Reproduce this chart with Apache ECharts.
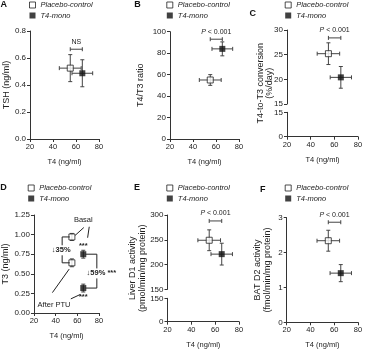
<!DOCTYPE html>
<html>
<head>
<meta charset="utf-8">
<script src="https://cdn.jsdelivr.net/npm/echarts@6/dist/echarts.min.js"></script>
<style>
  html, body { margin: 0; padding: 0; background: #fff; }
  #chart { width: 376px; height: 352px; }
</style>
</head>
<body>
<div id="chart"></div>
<script>
// values: [Placebo-control, T4-mono]
const groups = ['Placebo-control', 'T4-mono'];
const t4Ticks = [20, 40, 60, 80];
const t4Mean = [55, 65.5];
const t4Sem = [9.5, 9];
const tshMean = [0.525, 0.487];
const tshSem = [0.1, 0.1];
const ratioMean = [55, 84];
const ratioSem = [5, 6.5];
const convMean = [25.2, 20.4];
const convSem = [2.2, 2.2];
const t3Basal = [0.97, 0.75];
const t3BasalSem = [0.045, 0.05];
const t3Ptu = [0.64, 0.318];
const t3PtuSem = [0.05, 0.05];
const d1Mean = [249, 221];
const d1Sem = [21, 22];
const d2Mean = [2.34, 1.41];
const d2Sem = [0.3, 0.245];
const sigLabels = ['NS', 'P < 0.001', 'P < 0.001', 'P < 0.001', 'P < 0.001'];
const sigLevels = [0.665, 93, 28.4, 288, 2.87];

const FONT = '"Liberation Sans", Arial, sans-serif';
const INK = '#222';
const BAR = '#444';
const CAP = 2;

// panel D annotation geometry, in data units
const dLines = [
  [58, 0.99, 66, 1.09], [71, 1.1, 69.5, 0.96],
  [37, 0.26, 52.5, 0.56], [54, 0.18, 62.5, 0.235],
  [46, 0.97, 53, 0.97], [46, 0.97, 46, 0.64], [46, 0.64, 53, 0.64],
  [67.5, 0.75, 78, 0.75], [78, 0.75, 78, 0.318], [67.5, 0.318, 78, 0.318]
];
const dTexts = [
  { t: 'Basal', x: 65.5, y: 1.19 },
  { t: 'After PTU', x: 38.5, y: 0.1 },
  { t: '***', x: 65.5, y: 0.86, bold: true },
  { t: '***', x: 65.5, y: 0.2, bold: true },
  { t: '↓35%', x: 36.5, y: 0.8, bold: true, left: true },
  { t: '↓59% ***', x: 68.5, y: 0.505, bold: true, left: true }
];

const grids = [
  { left: 30, top: 31, width: 69, height: 108 },        // 0 A
  { left: 170, top: 31.7, width: 69, height: 107.3 },   // 1 B
  { left: 287, top: 30, width: 71, height: 74 },        // 2 C upper
  { left: 287, top: 112.3, width: 71, height: 24.4 },   // 3 C lower
  { left: 287, top: 30, width: 71, height: 106.7 },     // 4 C name only
  { left: 30, top: 215, width: 69, height: 98 },        // 5 D
  { left: 167.5, top: 215, width: 71.5, height: 74.3 }, // 6 E upper
  { left: 167.5, top: 298.3, width: 71.5, height: 23.4 },// 7 E lower
  { left: 167.5, top: 215, width: 71.5, height: 106.7 },// 8 E name only
  { left: 286.7, top: 217.7, width: 71.3, height: 104.6 } // 9 F
];

function seg(x1, y1, x2, y2, color) {
  return { type: 'line', shape: { x1, y1, x2, y2 }, style: { stroke: color || INK, lineWidth: 1 } };
}

function xAx(grid, show) {
  return {
    gridIndex: grid, type: 'value', show,
    min: t4Ticks[0], max: t4Ticks[t4Ticks.length - 1], interval: t4Ticks[1] - t4Ticks[0],
    name: 'T4 (ng/ml)', nameLocation: 'middle', nameGap: 19,
    nameTextStyle: { fontSize: 7.5, color: INK, fontFamily: FONT },
    axisLine: { lineStyle: { color: '#333' } },
    axisTick: { length: 3, lineStyle: { color: '#333' } },
    axisLabel: { fontSize: 7.5, margin: 4, color: INK, fontFamily: FONT },
    splitLine: { show: false }
  };
}

function yLabel(fmt) {
  return { fontSize: 8, margin: 4, color: INK, fontFamily: FONT, showMinLabel: true, showMaxLabel: true, formatter: fmt };
}

function yAx(grid, min, max, interval, extra) {
  return Object.assign({
    gridIndex: grid, type: 'value', min, max, interval,
    nameLocation: 'middle',
    nameTextStyle: { fontSize: 9, lineHeight: 9.5, color: INK, fontFamily: FONT },
    axisLine: { show: true, lineStyle: { color: '#333' } },
    axisTick: { show: true, length: 3, lineStyle: { color: '#333' } },
    axisLabel: yLabel(),
    splitLine: { show: false }
  }, extra || {});
}

const hidden = { axisLine: { show: false }, axisTick: { show: false }, axisLabel: { show: false } };

const xAxes = [
  xAx(0, true), xAx(1, true), xAx(2, false), xAx(3, true), xAx(4, false),
  xAx(5, true), xAx(6, false), xAx(7, true), xAx(8, false), xAx(9, true)
];
const yAxes = [
  yAx(0, 0, 0.8, 0.2, { name: 'TSH (ng/ml)', nameGap: 16, axisLabel: yLabel(v => v.toFixed(1)) }),
  yAx(1, 0, 100, 20, { name: 'T4/T3 ratio', nameGap: 25 }),
  yAx(2, 15, 30, 5),
  yAx(3, 0, 15, 15),
  yAx(4, 0, 1, 1, Object.assign({ name: 'T4-to-T3 conversion\n(%/day)', nameGap: 12.5 }, hidden)),
  yAx(5, 0, 1.25, 0.25, { name: 'T3 (ng/ml)', nameGap: 20.5, axisLabel: yLabel(v => v.toFixed(2)) }),
  yAx(6, 150, 300, 50),
  yAx(7, 0, 150, 150),
  yAx(8, 0, 1, 1, Object.assign({ name: 'Liver D1 activity\n(pmol/min/mg protein)', nameGap: 20.5 }, hidden)),
  yAx(9, 0, 3, 1, { name: 'BAT D2 activity\n(fmol/min/mg protein)', nameGap: 14.7 })
];

function renderErr(params, api) {
  const x = api.value(0), y = api.value(1), ex = api.value(2), ey = api.value(3);
  const kids = [];
  if (ex) {
    const a = api.coord([x - ex, y]), b = api.coord([x + ex, y]);
    kids.push(seg(a[0], a[1], b[0], b[1], BAR), seg(a[0], a[1] - CAP, a[0], a[1] + CAP, BAR), seg(b[0], b[1] - CAP, b[0], b[1] + CAP, BAR));
  }
  if (ey) {
    const a = api.coord([x, y - ey]), b = api.coord([x, y + ey]);
    kids.push(seg(a[0], a[1], b[0], b[1], BAR), seg(a[0] - CAP, a[1], a[0] + CAP, a[1], BAR), seg(b[0] - CAP, b[1], b[0] + CAP, b[1], BAR));
  }
  return { type: 'group', children: kids };
}

function panelSeries(grid, xs, xe, ys, ye) {
  const out = [{
    type: 'custom', xAxisIndex: grid, yAxisIndex: grid, z: 2, clip: false, silent: true,
    renderItem: renderErr,
    data: ys.map((y, i) => [xs[i], y, xe ? xe[i] : 0, ye[i]])
  }];
  groups.forEach((g, i) => {
    out.push({
      name: g, type: 'scatter', xAxisIndex: grid, yAxisIndex: grid, z: 3,
      symbol: 'rect', symbolSize: 6,
      itemStyle: i === 0 ? { color: '#fff', borderColor: INK, borderWidth: 1 } : { color: '#111' },
      data: [[xs[i], ys[i]]]
    });
  });
  return out;
}

function bracketSeries(grid, k) {
  const label = sigLabels[k];
  return {
    type: 'custom', xAxisIndex: grid, yAxisIndex: grid, z: 4, clip: false, silent: true,
    encode: { x: [0, 1], y: 2 },
    data: [[t4Mean[0], t4Mean[1], sigLevels[k]]],
    renderItem(params, api) {
      const a = api.coord([api.value(0), api.value(2)]);
      const b = api.coord([api.value(1), api.value(2)]);
      const text = label === 'NS' ? 'NS' : '{i|P} < 0.001';
      return {
        type: 'group',
        children: [
          seg(a[0], a[1], b[0], b[1], BAR),
          seg(a[0], a[1] - CAP, a[0], a[1] + CAP, BAR),
          seg(b[0], b[1] - CAP, b[0], b[1] + CAP, BAR),
          {
            type: 'text', x: (a[0] + b[0]) / 2, y: a[1] - 4,
            style: {
              text, align: 'center', verticalAlign: 'bottom', fill: INK,
              fontSize: 7, fontFamily: FONT,
              rich: { i: { fontStyle: 'italic', fontSize: 7, fontFamily: FONT, fill: INK } }
            }
          }
        ]
      };
    }
  };
}

const dNotes = {
  type: 'custom', xAxisIndex: 5, yAxisIndex: 5, z: 4, clip: false, silent: true,
  data: [[t4Mean[0], t3Basal[0]]],
  renderItem(params, api) {
    const kids = dLines.map(l => {
      const a = api.coord([l[0], l[1]]), b = api.coord([l[2], l[3]]);
      return seg(a[0], a[1], b[0], b[1]);
    });
    dTexts.forEach(t => {
      const p = api.coord([t.x, t.y]);
      kids.push({
        type: 'text', x: p[0], y: p[1], z2: 10,
        style: {
          text: t.t, align: t.left ? 'left' : 'center', verticalAlign: 'middle',
          fill: INK, fontSize: 7.5, fontWeight: t.bold ? 'bold' : 'normal', fontFamily: FONT,
          backgroundColor: t.left ? '#fff' : null, padding: t.left ? [1, 0] : 0
        }
      });
    });
    return { type: 'group', children: kids };
  }
};

const series = [].concat(
  panelSeries(0, t4Mean, t4Sem, tshMean, tshSem), [bracketSeries(0, 0)],
  panelSeries(1, t4Mean, t4Sem, ratioMean, ratioSem), [bracketSeries(1, 1)],
  panelSeries(2, t4Mean, t4Sem, convMean, convSem), [bracketSeries(2, 2)],
  panelSeries(5, t4Mean, null, t3Basal, t3BasalSem),
  panelSeries(5, t4Mean, null, t3Ptu, t3PtuSem), [dNotes],
  panelSeries(6, t4Mean, t4Sem, d1Mean, d1Sem), [bracketSeries(6, 3)],
  panelSeries(9, t4Mean, t4Sem, d2Mean, d2Sem), [bracketSeries(9, 4)]
);

function legendAt(left, top) {
  return {
    left, top, orient: 'vertical', padding: 0, itemGap: 1.5,
    itemWidth: 6, itemHeight: 6, icon: 'rect', selectedMode: false,
    textStyle: { fontSize: 7.5, fontStyle: 'italic', color: INK, fontFamily: FONT, lineHeight: 9 },
    data: [
      { name: groups[0], itemStyle: { color: '#fff', borderColor: INK, borderWidth: 1 } },
      { name: groups[1], itemStyle: { color: '#111' } }
    ]
  };
}

function letter(text, left, top) {
  return { text, left, top, padding: 0, textStyle: { fontSize: 9, fontWeight: 'bold', color: '#111', fontFamily: FONT } };
}

const chart = echarts.init(document.getElementById('chart'), null, { renderer: 'canvas' });
chart.setOption({
  animation: false,
  backgroundColor: '#fff',
  textStyle: { fontFamily: FONT },
  title: [
    letter('A', 0.5, 0), letter('B', 134.3, 0), letter('C', 249.5, 9.5),
    letter('D', 0.3, 183), letter('E', 134, 183), letter('F', 260, 185)
  ],
  legend: [
    legendAt(29, 0.5), legendAt(166.3, 0.5), legendAt(284.7, 0.5),
    legendAt(27.7, 183.5), legendAt(166.3, 183.5), legendAt(284.7, 183.5)
  ],
  grid: grids,
  xAxis: xAxes,
  yAxis: yAxes,
  series
});
</script>
</body>
</html>
